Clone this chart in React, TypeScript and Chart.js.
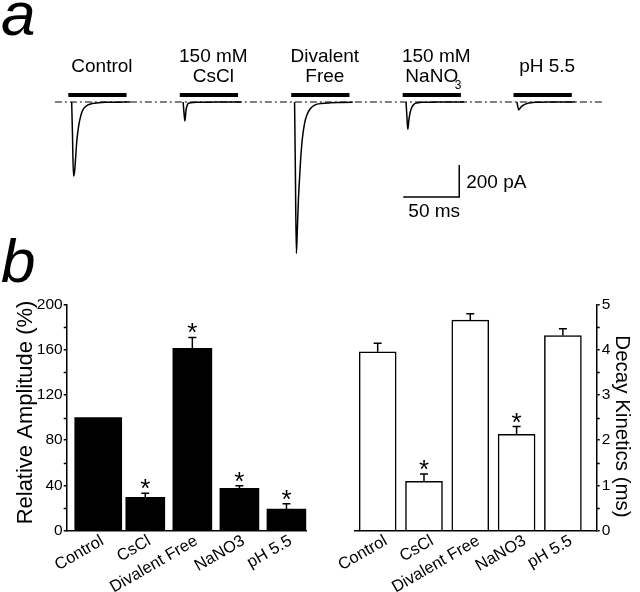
import React, { useEffect, useRef } from "react";
import { Chart, registerables } from "chart.js";

Chart.register(...registerables);

const FONT = "'Liberation Sans', Arial, Helvetica, sans-serif";

// ---------- Panel a : representative current traces ----------
const traceLabels = [["Control"], ["150 mM", "CsCl"], ["Divalent", "Free"], ["150 mM", "NaNO3"], ["pH 5.5"]];
const sweepOnsetMs = [64, 163.5, 263, 362.5, 461.5];
const traceTimeMs = [0, 0.7, 1.6, 2.5, 3.5, 4.5, 5.5, 7, 9, 11, 14, 18, 24, 32, 42, 52];
const traceControlPA = [0, -200, -462, -440, -350, -250, -185, -120, -65, -38, -20, -10, -4, -2, -1, 0];
const traceCsClPA = [0, -60, -119, -55, -22, -10, -6, -4, -3, -2, -2, -1, -1, 0, 0, 0];
const traceDivalentPA = [0, -420, -946, -790, -600, -470, -350, -225, -130, -81, -42, -19, -9, -5, -3, -1];
const traceNaNO3PA = [0, -80, -171, -115, -72, -45, -29, -15, -7, -4, -2, -1, -1, 0, 0, 0];
const tracePH55PA = [0, -25, -50, -42, -33, -26, -21, -15, -9, -6, -3, -2, -1, 0, 0, 0];
const tracesPA = [traceControlPA, traceCsClPA, traceDivalentPA, traceNaNO3PA, tracePH55PA];

const stimulusStartMs = -3;
const stimulusDurationMs = 52;
const stimulusLevelPA = 44;
const baselineSpanMs = [49, 540];
const scaleBarMs = 50;
const scaleBarPA = 200;
const scaleBarCornerMs = 410;
const scaleBarCornerPA = -594;
const traceAxisMs = [0, 571.4];
const traceAxisPA = [-1187.5, 637.5];

// ---------- Panel b : summary bar charts ----------
const conditions = ["Control", "CsCl", "Divalent Free", "NaNO3", "pH 5.5"];
const amplitudeMean = [100, 29.5, 161, 37.5, 19];
const amplitudeSem = [0, 3.5, 9.7, 2.3, 4.7];
const amplitudeSignificant = [false, true, true, true, true];
const amplitudeTicks = [0, 200, 40];
const decayMean = [3.95, 1.09, 4.65, 2.13, 4.31];
const decaySem = [0.19, 0.16, 0.14, 0.17, 0.15];
const decaySignificant = [false, true, false, true, false];
const decayTicks = [0, 5, 1];
const amplitudeXRange = [-0.67, 4.43];
const decayXRange = [-0.49, 4.73];

function tracesConfig(): any {
  const black = "#000";
  const datasets: any[] = [];
  datasets.push({
    data: [{ x: baselineSpanMs[0], y: 0 }, { x: baselineSpanMs[1], y: 0 }],
    borderColor: black,
    borderWidth: 1.2,
    borderDash: [7, 3, 2, 3],
  });
  sweepOnsetMs.forEach((on) => {
    datasets.push({
      data: [
        { x: on + stimulusStartMs, y: stimulusLevelPA },
        { x: on + stimulusStartMs + stimulusDurationMs, y: stimulusLevelPA },
      ],
      borderColor: black,
      borderWidth: 4,
      borderCapStyle: "butt",
    });
  });
  tracesPA.forEach((vals, i) => {
    datasets.push({
      data: traceTimeMs.map((t, k) => ({ x: sweepOnsetMs[i] + t, y: vals[k] })),
      borderColor: black,
      borderWidth: 1.5,
      cubicInterpolationMode: "monotone",
    });
  });
  datasets.push({
    data: [
      { x: scaleBarCornerMs - scaleBarMs, y: scaleBarCornerPA },
      { x: scaleBarCornerMs, y: scaleBarCornerPA },
      { x: scaleBarCornerMs, y: scaleBarCornerPA + scaleBarPA },
    ],
    borderColor: black,
    borderWidth: 1.5,
  });
  datasets.forEach((d) => {
    d.showLine = true;
    d.pointRadius = 0;
    d.fill = false;
    d.clip = false;
  });

  const textPlugin = {
    id: "tracesText",
    afterDraw(chart: any) {
      const { ctx, scales } = chart;
      const xs = scales.x;
      const ys = scales.y;
      ctx.save();
      ctx.fillStyle = "#000";
      ctx.textBaseline = "alphabetic";
      ctx.textAlign = "left";
      ctx.font = `italic 62px ${FONT}`;
      ctx.fillText("a", 1, 35);
      ctx.fillText("b", 1, 282);
      ctx.font = `19px ${FONT}`;
      ctx.textAlign = "center";
      const barY = ys.getPixelForValue(stimulusLevelPA);
      traceLabels.forEach((lines, i) => {
        const cx = xs.getPixelForValue(sweepOnsetMs[i] + 27);
        const baseYs = lines.length === 1 ? [barY - 23] : [barY - 33, barY - 13];
        lines.forEach((ln, j) => {
          if (ln === "NaNO3") {
            ctx.font = `19px ${FONT}`;
            const w = ctx.measureText("NaNO").width;
            const c2 = cx - 4.5;
            ctx.textAlign = "center";
            ctx.fillText("NaNO", c2, baseYs[j]);
            ctx.font = `12px ${FONT}`;
            ctx.textAlign = "left";
            ctx.fillText("3", c2 + w / 2 - 3.5, baseYs[j] + 7);
            ctx.font = `19px ${FONT}`;
            ctx.textAlign = "center";
          } else {
            ctx.fillText(ln, cx, baseYs[j]);
          }
        });
      });
      const cornerX = xs.getPixelForValue(scaleBarCornerMs);
      const cornerY = ys.getPixelForValue(scaleBarCornerPA);
      const topY = ys.getPixelForValue(scaleBarCornerPA + scaleBarPA);
      const leftX = xs.getPixelForValue(scaleBarCornerMs - scaleBarMs);
      ctx.textAlign = "left";
      ctx.fillText(`${scaleBarPA} pA`, cornerX + 7, (cornerY + topY) / 2 + 7);
      ctx.textAlign = "center";
      ctx.fillText(`${scaleBarMs} ms`, (cornerX + leftX) / 2 + 3, cornerY + 19.5);
      ctx.restore();
    },
  };

  return {
    type: "scatter",
    data: { datasets },
    options: {
      responsive: false,
      animation: false,
      events: [],
      layout: { padding: 0 },
      plugins: { legend: { display: false }, tooltip: { enabled: false } },
      scales: {
        x: { type: "linear", display: false, min: traceAxisMs[0], max: traceAxisMs[1] },
        y: { type: "linear", display: false, min: traceAxisPA[0], max: traceAxisPA[1] },
      },
    },
    plugins: [textPlugin],
  };
}

function barConfig(p: {
  means: number[];
  sems: number[];
  sig: boolean[];
  ticks: number[];
  xRange: number[];
  side: "left" | "right";
  filled: boolean;
  title: string;
  titleSize: number;
  titleOffset: number;
  titleShiftY: number;
  axisWidth: number;
  padding: any;
  widths: number[];
  labelShift: number;
}): any {
  const black = "#000";
  const datasets = p.means.map((m, i) => ({
    data: [{ x: i, y: m }],
    backgroundColor: p.filled ? black : "#fff",
    borderColor: black,
    borderWidth: p.filled ? 0 : 1.5,
    borderSkipped: "start",
    barThickness: p.widths[i],
    grouped: false,
  }));

  const extras = {
    id: "errorBars",
    afterDatasetsDraw(chart: any) {
      const { ctx, scales, chartArea } = chart;
      const x = scales.x;
      const y = scales.y;
      ctx.save();
      ctx.strokeStyle = black;
      ctx.fillStyle = black;
      ctx.lineWidth = 1.5;
      p.means.forEach((m, i) => {
        const px = x.getPixelForValue(i);
        const yTop = y.getPixelForValue(m + p.sems[i]);
        if (p.sems[i] > 0) {
          ctx.beginPath();
          ctx.moveTo(px, y.getPixelForValue(m));
          ctx.lineTo(px, yTop);
          ctx.moveTo(px - 4, yTop);
          ctx.lineTo(px + 4, yTop);
          ctx.stroke();
        }
        if (p.sig[i]) {
          ctx.font = `26px ${FONT}`;
          ctx.textAlign = "center";
          ctx.textBaseline = "alphabetic";
          ctx.fillText("*", px, yTop + 4);
        }
      });
      // minor ticks between the labelled ticks
      const vals = y.ticks.map((t: any) => t.value);
      const ax = p.side === "left" ? chartArea.left : chartArea.right;
      const dir = p.side === "left" ? -1 : 1;
      ctx.beginPath();
      for (let k = 0; k < vals.length - 1; k++) {
        const py = Math.round(y.getPixelForValue((vals[k] + vals[k + 1]) / 2)) + 0.5;
        ctx.moveTo(ax, py);
        ctx.lineTo(ax + dir * 3, py);
      }
      ctx.stroke();
      // slanted category labels
      ctx.font = `16.5px ${FONT}`;
      ctx.textAlign = "right";
      ctx.textBaseline = "top";
      const axisY = chartArea.bottom;
      const angle = (30 * Math.PI) / 180;
      conditions.forEach((c, i) => {
        const px = x.getPixelForValue(i) + p.labelShift;
        ctx.save();
        ctx.translate(px, axisY + 2);
        ctx.rotate(-angle);
        ctx.fillText(c, 0, 0);
        ctx.restore();
      });
      // axis title
      ctx.font = `${p.titleSize}px ${FONT}`;
      ctx.textAlign = "center";
      ctx.textBaseline = "middle";
      const midY = (chartArea.top + chartArea.bottom) / 2 + p.titleShiftY;
      const tx = p.side === "left" ? chartArea.left - p.titleOffset : chartArea.right + p.titleOffset;
      ctx.save();
      ctx.translate(tx, midY);
      ctx.rotate(p.side === "left" ? -Math.PI / 2 : Math.PI / 2);
      ctx.fillText(p.title, 0, 0);
      ctx.restore();
      ctx.restore();
    },
  };

  return {
    type: "bar",
    data: { datasets },
    options: {
      responsive: false,
      animation: false,
      events: [],
      layout: { padding: p.padding },
      plugins: { legend: { display: false }, tooltip: { enabled: false } },
      scales: {
        x: {
          type: "linear",
          position: "bottom",
          min: p.xRange[0],
          max: p.xRange[1],
          bounds: "data",
          offset: false,
          grid: { display: false, drawTicks: false, tickLength: 0 },
          border: { display: true, color: black, width: 1.5 },
          ticks: { display: false },
          afterFit: (s: any) => {
            s.height = 61.3;
          },
        },
        y: {
          type: "linear",
          position: p.side,
          min: p.ticks[0],
          max: p.ticks[1],
          grid: {
            display: true,
            drawOnChartArea: false,
            drawTicks: true,
            tickLength: 3,
            color: black,
            lineWidth: 1.5,
          },
          border: { display: true, color: black, width: 1.5 },
          ticks: {
            stepSize: p.ticks[2],
            padding: p.side === "left" ? 1 : 2,
            color: black,
            font: { family: FONT, size: 15.5 },
          },
          title: { display: false },
          afterFit: (s: any) => {
            s.width = p.axisWidth;
          },
        },
      },
    },
    plugins: [extras],
  };
}

export default function App() {
  const aRef = useRef<HTMLCanvasElement>(null);
  const lRef = useRef<HTMLCanvasElement>(null);
  const rRef = useRef<HTMLCanvasElement>(null);

  useEffect(() => {
    const charts = [
      new Chart(aRef.current as HTMLCanvasElement, tracesConfig()),
      new Chart(
        lRef.current as HTMLCanvasElement,
        barConfig({
          means: amplitudeMean,
          sems: amplitudeSem,
          sig: amplitudeSignificant,
          ticks: amplitudeTicks,
          xRange: amplitudeXRange,
          side: "left",
          filled: true,
          title: "Relative Amplitude (%)",
          titleSize: 22,
          titleOffset: 41.2,
          titleShiftY: -5,
          axisWidth: 66.7,
          padding: { top: 14.3, right: 13.3, left: 0, bottom: 0 },
          widths: [47, 39, 39, 39, 39],
          labelShift: 0,
        })
      ),
      new Chart(
        rRef.current as HTMLCanvasElement,
        barConfig({
          means: decayMean,
          sems: decaySem,
          sig: decaySignificant,
          ticks: decayTicks,
          xRange: decayXRange,
          side: "right",
          filled: false,
          title: "Decay Kinetics (ms)",
          titleSize: 20.5,
          titleOffset: 25.3,
          titleShiftY: 9,
          axisWidth: 43.3,
          padding: { top: 14.3, right: 0, left: 35, bottom: 0 },
          widths: [37, 37, 37, 37, 37],
          labelShift: 4,
        })
      ),
    ];
    return () => charts.forEach((c) => c.destroy());
  }, []);

  return (
    <div style={{ position: "absolute", left: 0, top: 0, width: 640, height: 592, background: "#fff", overflow: "hidden" }}>
      <canvas ref={lRef} width={320} height={302} style={{ position: "absolute", left: 0, top: 290, display: "block" }} />
      <canvas ref={rRef} width={320} height={302} style={{ position: "absolute", left: 320, top: 290, display: "block" }} />
      <canvas ref={aRef} width={640} height={292} style={{ position: "absolute", left: 0, top: 0, display: "block" }} />
    </div>
  );
}
